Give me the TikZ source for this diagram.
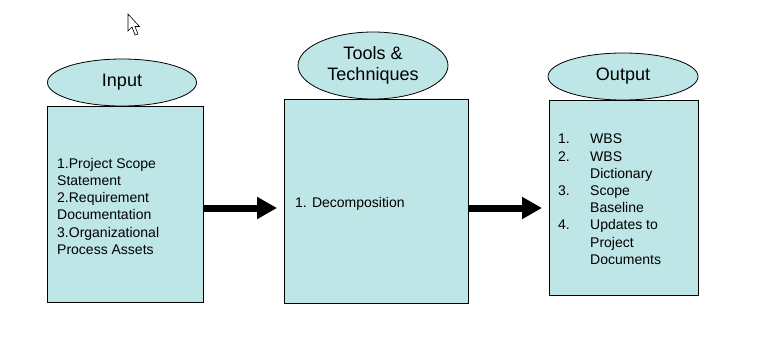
\documentclass[tikz,border=0pt]{standalone}
\usepackage{fontspec}
\setmainfont{Liberation Sans}
\usetikzlibrary{shapes.geometric,arrows.meta}
\definecolor{boxfill}{RGB}{190,230,230}
\begin{document}
\begin{tikzpicture}[x=1pt,y=-1pt,
  panel/.style={draw=black, line width=0.8pt, fill=boxfill, rectangle, inner sep=0pt},
  head/.style={draw=black, line width=0.8pt, fill=boxfill, ellipse, inner sep=0pt,
    font=\fontsize{18}{21}\selectfont, align=center},
  body/.style={font=\fontsize{14}{17.2}\selectfont, align=left, inner sep=0pt, anchor=north west},
  flow/.style={line width=7pt, -{Triangle[length=20pt,width=21pt]}}]
\useasboundingbox (0,0) rectangle (771,351);
\fill[white] (0,0) rectangle (771,351);
% boxes
\node[panel, minimum width=156pt, minimum height=196pt] (inbox) at (125.5,204) {};
\node[panel, minimum width=184pt, minimum height=204pt] (toolbox) at (376,201) {};
\node[panel, minimum width=149pt, minimum height=195pt] (outbox) at (623.5,197.5) {};
% headers
\node[head, minimum width=149pt, minimum height=47pt] (inhead) at (122,82.5) {Input};
\node[head, minimum width=150pt, minimum height=67pt] (toolhead) at (373,65.5) {Tools \&\\Techniques};
\node[head, minimum width=150pt, minimum height=47pt] (outhead) at (623,76.5) {Output};
% texts
\node[body] (intext) at (57,158) {1.Project Scope\\Statement\\2.Requirement\\Documentation\\3.Organizational\\Process Assets};
\node[body] (tooltext) at (295,197.5) {1. Decomposition};
\node[body] (outnum) at (558,134) {1.\\2.\\[17.2pt]3.\\[17.2pt]4.};
\node[body] (outtext) at (590,134) {WBS\\WBS\\Dictionary\\Scope\\Baseline\\Updates to\\Project\\Documents};
% arrows
\coordinate (a1s) at (inbox.east |- 0,208);
\coordinate (a1e) at (277,208);
\coordinate (a2s) at (toolbox.east |- 0,208);
\coordinate (a2e) at (542,208);
\draw[flow] (a1s) -- (a1e);
\draw[flow] (a2s) -- (a2e);
% mouse cursor
\draw[fill=white, line width=0.6pt, line join=miter]
  (128,14) -- (128,31) -- (132,27) -- (135,35) -- (138,34) -- (135,26.5) -- (139.5,26.5) -- cycle;
\end{tikzpicture}
\end{document}
